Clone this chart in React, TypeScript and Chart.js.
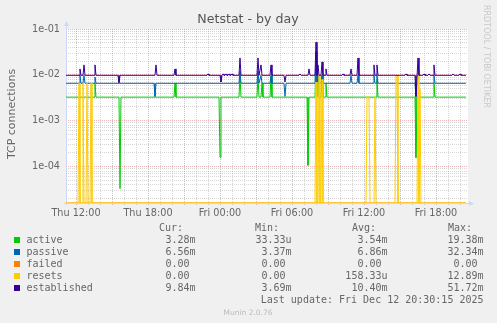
import React, { useEffect, useRef } from "react";
import { Chart, registerables } from "chart.js";

Chart.register(...registerables);

// Time axis: hours since Thu 00:00 (5-minute samples). Values in connections/s.
const X_MIN = 11 + 10 / 60; // Thu 11:10
const X_MAX = 44 + 40 / 60; // Fri 20:40
const Y_MIN = 1.62e-5;
const Y_MAX = 0.1;

const seriesNames = ["active", "passive", "failed", "resets", "established"];
const seriesColors = ["#00CC00", "#0066B3", "#FF8000", "#FFCC00", "#330099"];

const activeData: [number, number][] = [
  [11.167, 0.00328],
  [13.5, 0.00328], [13.583, 0.0066], [13.667, 0.00328],
  [15.583, 0.00328], [15.667, 0.0000333], [15.75, 0.00328],
  [20.167, 0.00328], [20.25, 0.0066], [20.333, 0.00328],
  [23.917, 0.00328], [24.0, 0.00016], [24.083, 0.00328],
  [25.583, 0.00328], [25.667, 0.0098], [25.75, 0.00328],
  [27.083, 0.00328], [27.167, 0.0098], [27.25, 0.00328],
  [27.417, 0.00328], [27.5, 0.0066], [27.583, 0.00328],
  [28.167, 0.00328], [28.25, 0.0098], [28.333, 0.00328],
  [31.25, 0.00328], [31.333, 0.000107], [31.417, 0.00328],
  [31.917, 0.00328], [32.0, 0.0194], [32.083, 0.00328],
  [32.167, 0.0098], [32.25, 0.00328],
  [32.417, 0.00328], [32.5, 0.0098], [32.583, 0.00328],
  [32.75, 0.00328], [32.833, 0.0066], [32.917, 0.00328],
  [37.0, 0.00328], [37.083, 0.008], [37.167, 0.00328],
  [40.25, 0.00328], [40.333, 0.000157], [40.417, 0.00328],
  [41.75, 0.00328], [41.833, 0.0066], [41.917, 0.00328],
  [44.5, 0.00328],
];

const passiveData: [number, number][] = [
  [11.167, 0.00656],
  [12.25, 0.00656], [12.333, 0.0098], [12.417, 0.00656],
  [12.583, 0.00656], [12.667, 0.0098], [12.75, 0.00656],
  [13.5, 0.00656], [13.583, 0.009], [13.667, 0.00656],
  [18.5, 0.00656], [18.583, 0.0034], [18.667, 0.00656],
  [25.583, 0.00656], [25.667, 0.012], [25.75, 0.00656],
  [27.083, 0.00656], [27.167, 0.012], [27.25, 0.00656],
  [27.333, 0.00656], [27.417, 0.0098], [27.5, 0.00656],
  [28.167, 0.00656], [28.25, 0.0095], [28.333, 0.00656],
  [29.333, 0.00656], [29.417, 0.0034], [29.5, 0.00656],
  [31.917, 0.00656], [32.0, 0.0323], [32.083, 0.00656],
  [32.167, 0.0098], [32.25, 0.00656],
  [32.417, 0.00656], [32.5, 0.0098], [32.583, 0.00656],
  [34.833, 0.00656], [34.917, 0.0098], [35.0, 0.00656],
  [35.417, 0.00656], [35.5, 0.0098], [35.583, 0.00656],
  [36.75, 0.00656], [36.833, 0.0098], [36.917, 0.00656],
  [37.0, 0.00656], [37.083, 0.0098], [37.167, 0.00656],
  [40.25, 0.00656], [40.333, 0.0034], [40.417, 0.00656],
  [41.75, 0.00656], [41.833, 0.0098], [41.917, 0.00656],
  [44.5, 0.00656],
];

const failedData: [number, number][] = [
  [11.167, 0],
  [44.5, 0],
];

const resetsData: [number, number][] = [
  [11.167, 0],
  [12.167, 0], [12.25, 0.0066], [12.333, 0],
  [12.5, 0], [12.583, 0.0066], [12.667, 0],
  [12.833, 0], [12.917, 0.0066], [13.0, 0],
  [13.167, 0], [13.25, 0.0066], [13.333, 0],
  [31.917, 0], [32.0, 0.007], [32.083, 0],
  [32.167, 0], [32.25, 0.0098], [32.333, 0],
  [32.417, 0], [32.5, 0.008], [32.583, 0],
  [36.167, 0], [36.25, 0.0033], [36.417, 0.0033], [36.5, 0],
  [36.833, 0], [36.917, 0.0033], [37.0, 0],
  [38.583, 0], [38.667, 0.0098], [38.75, 0.0098], [38.833, 0],
  [40.417, 0], [40.5, 0.0129], [40.583, 0], [40.667, 0.005], [40.75, 0],
  [44.5, 0],
];

const establishedData: [number, number][] = [
  [11.167, 0.0098],
  [12.25, 0.0098], [12.333, 0.0135], [12.417, 0.0098],
  [12.583, 0.0098], [12.667, 0.0165], [12.75, 0.0098],
  [13.5, 0.0098], [13.583, 0.0165], [13.667, 0.0098],
  [15.5, 0.0098], [15.583, 0.0068], [15.667, 0.0098],
  [18.583, 0.0098], [18.667, 0.0165], [18.75, 0.0098],
  [20.167, 0.0098], [20.25, 0.0135], [20.333, 0.0098],
  [22.917, 0.0098], [23.0, 0.0105], [23.083, 0.0098],
  [24.0, 0.0098], [24.083, 0.007], [24.167, 0.0098], [24.25, 0.0105], [24.333, 0.0098],
  [24.417, 0.0098], [24.5, 0.0105], [24.583, 0.0098],
  [24.667, 0.0098], [24.75, 0.0105], [24.833, 0.0098],
  [24.917, 0.0098], [25.0, 0.0105], [25.083, 0.0098],
  [25.583, 0.0098], [25.667, 0.0234], [25.75, 0.0098],
  [27.083, 0.0098], [27.167, 0.0234], [27.25, 0.0098],
  [27.333, 0.0098], [27.417, 0.0165], [27.5, 0.0098],
  [28.167, 0.0098], [28.25, 0.0165], [28.333, 0.0098],
  [29.333, 0.0098], [29.417, 0.007], [29.5, 0.0098],
  [30.583, 0.0098], [30.667, 0.0105], [30.75, 0.0098],
  [31.333, 0.0098], [31.417, 0.0135], [31.5, 0.0098],
  [31.917, 0.0098], [32.0, 0.0517], [32.083, 0.0098],
  [32.167, 0.0165], [32.25, 0.0098],
  [32.417, 0.0098], [32.5, 0.0192], [32.583, 0.0098],
  [32.75, 0.0098], [32.833, 0.0135], [32.917, 0.0098],
  [34.167, 0.0098], [34.25, 0.0105], [34.333, 0.0098],
  [34.833, 0.0098], [34.917, 0.0135], [35.0, 0.0098],
  [35.417, 0.0098], [35.5, 0.0234], [35.583, 0.0098],
  [36.75, 0.0098], [36.833, 0.0165], [36.917, 0.0098],
  [37.0, 0.0098], [37.083, 0.0165], [37.167, 0.0098],
  [39.417, 0.0098], [39.5, 0.0105], [39.583, 0.0098],
  [40.25, 0.0098], [40.333, 0.0034], [40.5, 0.0234], [40.583, 0.0098],
  [40.917, 0.0098], [41.0, 0.0105], [41.083, 0.0098],
  [41.333, 0.0098], [41.417, 0.0105], [41.5, 0.0098],
  [41.75, 0.0098], [41.833, 0.0165], [41.917, 0.0098],
  [43.333, 0.0098], [43.417, 0.0105], [43.5, 0.0098],
  [43.917, 0.0098], [44.0, 0.0105], [44.083, 0.0098],
  [44.5, 0.0098],
];

const xTickHours = [12, 18, 24, 30, 36, 42];
const xTickLabels = ["Thu 12:00", "Thu 18:00", "Fri 00:00", "Fri 06:00", "Fri 12:00", "Fri 18:00"];
const yTickValues = [1e-1, 1e-2, 1e-3, 1e-4];
const yTickLabels = ["1e-01", "1e-02", "1e-03", "1e-04"];

const legendHeaders = ["Cur:", "Min:", "Avg:", "Max:"];
const curValues = ["3.28m", "6.56m", "0.00", "0.00", "9.84m"];
const minValues = ["33.33u", "3.37m", "0.00", "0.00", "3.69m"];
const avgValues = ["3.54m", "6.86m", "0.00", "158.33u", "10.40m"];
const maxValues = ["19.38m", "32.34m", "0.00", "12.89m", "51.72m"];

const titleText = "Netstat - by day";
const yAxisTitle = "TCP connections";
const sideText = "RRDTOOL / TOBI OETIKER";
const lastUpdateText = "Last update: Fri Dec 12 20:30:15 2025";
const footerText = "Munin 2.0.76";

const FONT_COLOR = "#666666";
const AXIS_COLOR = "#CFD6F8";
const MINOR_GRID = "rgba(150,150,150,0.38)";
const MAJOR_GRID = "rgba(215,110,110,0.5)";

const isDecade = (v: number) => Math.abs(Math.log10(v) - Math.round(Math.log10(v))) < 1e-6;

const decorPlugin = {
  id: "muninDecor",
  beforeDraw(chart: any) {
    const { ctx, chartArea: a, width, height } = chart;
    ctx.save();
    ctx.fillStyle = "#F0F0F0";
    ctx.fillRect(0, 0, width, height);
    ctx.fillStyle = "#FFFFFF";
    ctx.fillRect(a.left, a.top, a.right - a.left, a.bottom - a.top);
    ctx.restore();
  },
  beforeDatasetsDraw(chart: any) {
    const { ctx, chartArea: a } = chart;
    ctx.save();
    ctx.strokeStyle = AXIS_COLOR;
    ctx.fillStyle = AXIS_COLOR;
    ctx.lineWidth = 1;
    ctx.beginPath();
    ctx.moveTo(a.left + 0.5, a.bottom + 2);
    ctx.lineTo(a.left + 0.5, a.top - 5);
    ctx.moveTo(a.left - 2, a.bottom + 0.5);
    ctx.lineTo(a.right + 2, a.bottom + 0.5);
    ctx.stroke();
    ctx.beginPath();
    ctx.moveTo(a.left - 2, a.top - 3);
    ctx.lineTo(a.left + 3, a.top - 3);
    ctx.lineTo(a.left + 0.5, a.top - 8);
    ctx.closePath();
    ctx.fill();
    ctx.beginPath();
    ctx.moveTo(a.right + 1, a.bottom - 2);
    ctx.lineTo(a.right + 1, a.bottom + 3);
    ctx.lineTo(a.right + 6, a.bottom + 0.5);
    ctx.closePath();
    ctx.fill();
    ctx.restore();
  },
  afterDraw(chart: any) {
    const { ctx } = chart;
    ctx.save();
    // title
    ctx.fillStyle = "#555555";
    ctx.font = "12.6px 'DejaVu Sans'";
    ctx.textAlign = "center";
    ctx.textBaseline = "alphabetic";
    ctx.fillText(titleText, 248, 22.5);
    // y axis title
    ctx.save();
    ctx.translate(15, 114);
    ctx.rotate(-Math.PI / 2);
    ctx.font = "11px 'DejaVu Sans'";
    ctx.fillStyle = FONT_COLOR;
    ctx.fillText(yAxisTitle, 0, 0);
    ctx.restore();
    // side text
    ctx.save();
    ctx.translate(484, 5);
    ctx.rotate(Math.PI / 2);
    ctx.font = "8px 'DejaVu Sans'";
    ctx.fillStyle = "#C8C8C8";
    ctx.textAlign = "left";
    ctx.fillText(sideText, 0, 0);
    ctx.restore();
    // legend
    ctx.font = "10px 'DejaVu Sans Mono'";
    ctx.fillStyle = FONT_COLOR;
    ctx.textAlign = "left";
    const headerX = [159, 255, 352, 448];
    legendHeaders.forEach((h, i) => ctx.fillText(h, headerX[i], 231));
    const colRight = [195.5, 291.5, 387.5, 483.5];
    const cols = [curValues, minValues, avgValues, maxValues];
    seriesNames.forEach((name, i) => {
      const base = 243 + 12 * i;
      ctx.fillStyle = seriesColors[i];
      ctx.fillRect(14, base - 6, 6, 6);
      ctx.fillStyle = FONT_COLOR;
      ctx.textAlign = "left";
      ctx.fillText(name, 26.5, base);
      ctx.textAlign = "right";
      cols.forEach((col, c) => {
        const s = col[i];
        const txt = /[a-z]$/i.test(s) ? s : s + " ";
        ctx.fillText(txt, colRight[c], base);
      });
    });
    ctx.textAlign = "right";
    ctx.fillText(lastUpdateText, 483.5, 303);
    ctx.font = "7.5px 'DejaVu Sans'";
    ctx.fillStyle = "#BBBBBB";
    ctx.textAlign = "center";
    ctx.fillText(footerText, 248, 315);
    ctx.restore();
  },
};

const toPoints = (arr: [number, number][]) =>
  arr.map(([x, y]) => ({ x, y: Math.max(y, Y_MIN) }));

export default function App() {
  const ref = useRef<HTMLCanvasElement | null>(null);

  useEffect(() => {
    if (!ref.current) return;
    const allData = [activeData, passiveData, failedData, resetsData, establishedData];
    const drawOrder = [4, 3, 2, 1, 0];
    const chart = new Chart(ref.current, {
      type: "line",
      data: {
        datasets: seriesNames.map((name, i) => ({
          label: name,
          data: toPoints(allData[i]),
          borderColor: seriesColors[i],
          backgroundColor: seriesColors[i],
          borderWidth: 1,
          pointRadius: 0,
          fill: false,
          tension: 0,
          order: drawOrder[i],
        })),
      },
      options: {
        responsive: false,
        animation: false,
        devicePixelRatio: 1,
        events: [],
        layout: { padding: { left: 0, right: 29, top: 29, bottom: 100 } },
        plugins: {
          legend: { display: false },
          tooltip: { enabled: false },
          title: { display: false },
        },
        scales: {
          x: {
            type: "linear",
            min: X_MIN,
            max: X_MAX,
            afterFit: (s: any) => {
              s.height = 20;
            },
            afterBuildTicks: (s: any) => {
              const t = [];
              for (let h = Math.ceil(X_MIN); h <= Math.floor(X_MAX); h++) t.push({ value: h });
              s.ticks = t;
            },
            ticks: {
              autoSkip: false,
              maxRotation: 0,
              minRotation: 0,
              padding: 3,
              color: FONT_COLOR,
              font: { family: "'DejaVu Sans'", size: 9.7 },
              callback: (v: any) => {
                const idx = xTickHours.indexOf(Number(v));
                return idx >= 0 ? xTickLabels[idx] : "";
              },
            },
            grid: {
              color: (c: any) => (c.tick && c.tick.value % 3 === 0 ? MAJOR_GRID : MINOR_GRID),
              lineWidth: 1,
              drawTicks: true,
              tickLength: 2,
            },
            border: { display: false, dash: [1, 1] },
          },
          y: {
            type: "logarithmic",
            min: Y_MIN,
            max: Y_MAX,
            afterFit: (s: any) => {
              s.width = 66;
            },
            afterBuildTicks: (s: any) => {
              const t = [];
              for (let k = -6; k <= -1; k++) {
                for (let m = 1; m <= 9; m++) {
                  const v = m * Math.pow(10, k);
                  if (v >= Y_MIN && v <= Y_MAX * 1.0001) t.push({ value: v });
                }
              }
              s.ticks = t;
            },
            ticks: {
              autoSkip: false,
              padding: 6,
              color: FONT_COLOR,
              font: { family: "'DejaVu Sans'", size: 9.7 },
              callback: (v: any) => {
                const n = Number(v);
                const idx = yTickValues.findIndex((d) => Math.abs(d - n) / d < 1e-6);
                return idx >= 0 ? yTickLabels[idx] : "";
              },
            },
            grid: {
              color: (c: any) => (c.tick && isDecade(c.tick.value) ? MAJOR_GRID : MINOR_GRID),
              lineWidth: 1,
              drawTicks: false,
            },
            border: { display: false, dash: [1, 1] },
          },
        },
      },
      plugins: [decorPlugin],
    } as any);
    return () => chart.destroy();
  }, []);

  return (
    <div style={{ position: "absolute", left: 0, top: 0, width: 497, height: 323, background: "#F0F0F0" }}>
      <canvas ref={ref} width={497} height={323} style={{ display: "block", width: 497, height: 323 }} />
    </div>
  );
}
